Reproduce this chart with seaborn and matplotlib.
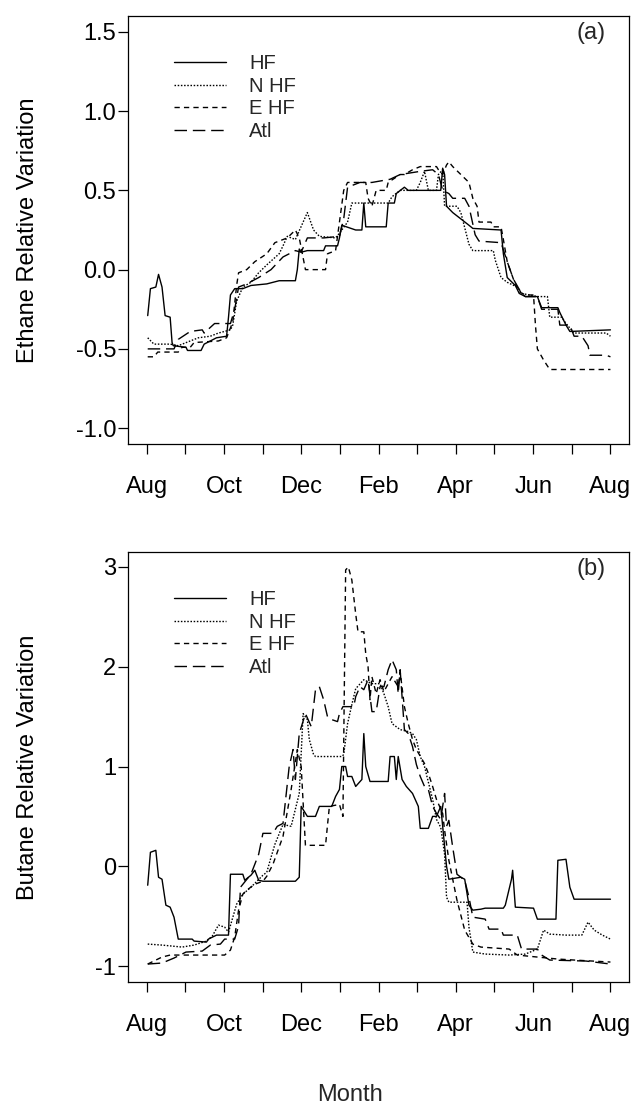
import numpy as np
import pandas as pd
import matplotlib
matplotlib.use("Agg")
import matplotlib.pyplot as plt
import seaborn as sns

# months since 1 Aug
SERIES = ["HF", "N HF", "E HF", "Atl"]
MONTH_LABELS = ["Aug", "", "Oct", "", "Dec", "", "Feb", "", "Apr", "", "Jun", "", "Aug"]

# ---- (a) ethane ----
eth_hf_m = [0.03, 0.10, 0.24, 0.31, 0.40, 0.48, 0.61, 0.66, 0.69, 1.02, 1.06, 1.41, 1.49, 1.65, 1.81, 2.07, 2.12, 2.17, 2.28, 2.49, 2.70, 3.11, 3.43, 3.85, 3.90, 3.95, 4.00, 4.16, 4.58, 4.63, 4.94, 4.99, 5.05, 5.41, 5.57, 5.62, 5.67, 6.20, 6.25, 6.41, 6.46, 6.67, 6.77, 7.61, 7.66, 7.71, 7.76, 7.92, 8.13, 8.34, 8.44, 9.17, 9.23, 9.33, 9.54, 9.64, 9.80, 10.11, 10.22, 10.64, 10.69, 10.85, 10.95, 12.0]
eth_hf_v = [-0.29, -0.12, -0.11, -0.03, -0.11, -0.29, -0.30, -0.46, -0.48, -0.49, -0.51, -0.51, -0.47, -0.45, -0.43, -0.42, -0.30, -0.16, -0.12, -0.12, -0.10, -0.09, -0.07, -0.07, 0.0, 0.13, 0.11, 0.12, 0.12, 0.15, 0.15, 0.20, 0.28, 0.25, 0.25, 0.42, 0.27, 0.27, 0.42, 0.42, 0.48, 0.52, 0.50, 0.50, 0.64, 0.60, 0.40, 0.36, 0.32, 0.28, 0.26, 0.25, 0.10, -0.05, -0.10, -0.15, -0.17, -0.17, -0.24, -0.24, -0.27, -0.35, -0.39, -0.38]

eth_nhf_m = [0.03, 0.19, 0.61, 0.82, 1.13, 1.34, 1.65, 1.86, 2.17, 2.23, 2.33, 2.49, 2.70, 2.90, 3.11, 3.43, 3.53, 3.64, 3.85, 4.05, 4.16, 4.32, 4.47, 4.89, 4.99, 5.20, 5.31, 6.25, 6.35, 6.56, 6.98, 7.08, 7.19, 7.29, 7.50, 7.55, 7.66, 7.71, 8.03, 8.13, 8.34, 8.44, 8.97, 9.02, 9.17, 9.33, 9.59, 9.70, 10.11, 10.37, 10.43, 10.74, 10.85, 11.06, 11.89, 12.0]
eth_nhf_v = [-0.43, -0.47, -0.47, -0.48, -0.45, -0.43, -0.42, -0.40, -0.38, -0.35, -0.20, -0.11, -0.08, -0.02, 0.03, 0.10, 0.15, 0.21, 0.19, 0.30, 0.36, 0.25, 0.21, 0.20, 0.23, 0.30, 0.42, 0.42, 0.46, 0.50, 0.50, 0.55, 0.62, 0.50, 0.50, 0.60, 0.63, 0.40, 0.40, 0.36, 0.16, 0.12, 0.12, 0.06, -0.05, -0.08, -0.11, -0.15, -0.17, -0.17, -0.30, -0.30, -0.34, -0.40, -0.40, -0.42]

eth_ehf_m = [0.03, 0.19, 0.29, 0.82, 0.92, 1.13, 1.23, 1.86, 2.07, 2.23, 2.33, 2.38, 2.59, 2.80, 3.11, 3.32, 3.64, 3.85, 3.95, 4.11, 4.63, 4.68, 4.89, 4.99, 5.10, 5.20, 5.41, 5.67, 5.73, 5.83, 5.94, 6.20, 6.25, 6.56, 6.67, 6.88, 7.08, 7.50, 7.55, 7.66, 7.76, 7.82, 7.92, 8.13, 8.34, 8.44, 8.55, 8.60, 8.91, 8.97, 9.17, 9.23, 9.33, 9.49, 9.64, 9.80, 10.01, 10.06, 10.11, 10.27, 10.43, 12.0]
eth_ehf_v = [-0.55, -0.55, -0.52, -0.52, -0.49, -0.49, -0.46, -0.45, -0.43, -0.33, -0.10, -0.02, 0.0, 0.05, 0.10, 0.17, 0.20, 0.25, 0.20, 0.0, 0.0, 0.10, 0.12, 0.30, 0.50, 0.55, 0.55, 0.55, 0.45, 0.40, 0.50, 0.50, 0.55, 0.60, 0.60, 0.63, 0.65, 0.65, 0.63, 0.60, 0.66, 0.68, 0.65, 0.60, 0.55, 0.45, 0.40, 0.30, 0.30, 0.27, 0.27, 0.19, 0.05, -0.06, -0.14, -0.16, -0.16, -0.35, -0.50, -0.57, -0.63, -0.63]

eth_atl_m = [0.03, 0.71, 0.82, 1.13, 1.44, 1.49, 1.76, 2.17, 2.28, 2.38, 2.59, 2.90, 3.22, 3.53, 3.85, 4.00, 4.16, 4.58, 4.99, 5.10, 5.20, 5.52, 5.83, 6.30, 6.56, 7.08, 7.40, 7.55, 7.66, 7.82, 7.92, 8.23, 8.34, 8.50, 8.60, 9.17, 9.33, 9.49, 9.70, 9.80, 10.11, 10.22, 10.64, 10.69, 10.95, 11.06, 11.26, 11.42, 11.47, 11.89, 12.0]
eth_atl_v = [-0.50, -0.50, -0.44, -0.39, -0.38, -0.40, -0.34, -0.34, -0.25, -0.11, -0.09, -0.05, 0.0, 0.08, 0.12, 0.11, 0.20, 0.20, 0.21, 0.32, 0.52, 0.55, 0.55, 0.57, 0.60, 0.62, 0.63, 0.60, 0.50, 0.48, 0.45, 0.45, 0.40, 0.22, 0.18, 0.17, 0.05, -0.06, -0.15, -0.17, -0.17, -0.25, -0.25, -0.35, -0.35, -0.42, -0.42, -0.48, -0.54, -0.54, -0.55]

# ---- (b) butane ----
but_hf_m = [0.03, 0.10, 0.24, 0.31, 0.40, 0.50, 0.61, 0.71, 0.82, 1.18, 1.23, 1.55, 1.60, 1.81, 2.12, 2.17, 2.49, 2.54, 2.70, 2.80, 2.90, 3.01, 3.85, 3.95, 4.00, 4.16, 4.37, 4.47, 4.79, 4.89, 4.99, 5.05, 5.15, 5.20, 5.31, 5.41, 5.57, 5.62, 5.67, 5.78, 6.25, 6.30, 6.41, 6.46, 6.51, 6.61, 6.72, 6.88, 7.03, 7.08, 7.29, 7.40, 7.50, 7.61, 7.66, 7.76, 7.82, 8.13, 8.23, 8.34, 8.44, 8.65, 8.76, 9.23, 9.28, 9.44, 9.47, 9.54, 10.01, 10.11, 10.59, 10.64, 10.85, 10.95, 11.06, 12.0]
but_hf_v = [-0.19, 0.14, 0.16, -0.11, -0.13, -0.39, -0.41, -0.51, -0.73, -0.73, -0.75, -0.76, -0.73, -0.69, -0.69, -0.08, -0.08, -0.14, -0.09, -0.04, -0.14, -0.15, -0.15, -0.11, 0.60, 0.50, 0.50, 0.60, 0.60, 0.70, 0.77, 1.00, 1.00, 0.90, 0.90, 0.80, 0.87, 1.33, 1.00, 0.85, 0.85, 1.10, 1.10, 0.87, 1.10, 0.87, 0.80, 0.73, 0.60, 0.38, 0.38, 0.50, 0.50, 0.60, 0.40, 0.0, -0.13, -0.11, -0.13, -0.39, -0.44, -0.43, -0.42, -0.42, -0.39, -0.13, -0.04, -0.41, -0.42, -0.53, -0.53, 0.06, 0.07, -0.21, -0.33, -0.33]

but_nhf_m = [0.03, 0.40, 0.92, 1.23, 1.55, 1.70, 1.86, 2.02, 2.12, 2.33, 2.49, 2.70, 3.01, 3.11, 3.22, 3.32, 3.53, 3.74, 3.95, 4.05, 4.16, 4.21, 4.32, 4.37, 5.05, 5.10, 5.20, 5.31, 5.41, 5.62, 5.83, 6.04, 6.14, 6.25, 6.35, 6.56, 6.77, 6.88, 6.98, 7.08, 7.19, 7.40, 7.50, 7.61, 7.71, 7.76, 7.82, 8.29, 8.34, 8.44, 8.76, 9.38, 9.80, 10.11, 10.27, 10.43, 10.85, 11.26, 11.42, 11.58, 11.79, 12.0]
but_nhf_v = [-0.78, -0.79, -0.81, -0.79, -0.75, -0.70, -0.59, -0.61, -0.66, -0.38, -0.28, -0.21, -0.09, -0.06, 0.09, 0.22, 0.42, 0.40, 0.73, 1.53, 1.47, 1.27, 1.12, 1.10, 1.10, 1.12, 1.43, 1.62, 1.78, 1.87, 1.83, 1.83, 1.73, 1.60, 1.43, 1.37, 1.35, 1.33, 1.27, 1.10, 1.00, 0.67, 0.47, 0.39, 0.12, -0.31, -0.36, -0.36, -0.61, -0.86, -0.88, -0.89, -0.88, -0.83, -0.64, -0.68, -0.69, -0.69, -0.56, -0.64, -0.69, -0.73]

but_ehf_m = [0.03, 0.40, 0.61, 2.02, 2.17, 2.28, 2.38, 2.49, 2.59, 2.80, 3.01, 3.11, 3.27, 3.53, 3.74, 3.90, 4.00, 4.11, 4.63, 4.68, 4.73, 4.99, 5.08, 5.12, 5.15, 5.22, 5.31, 5.41, 5.47, 5.62, 5.67, 5.73, 5.78, 5.83, 5.94, 6.04, 6.14, 6.25, 6.35, 6.51, 6.56, 6.67, 6.77, 6.88, 6.98, 7.19, 7.29, 7.40, 7.50, 7.66, 7.71, 7.82, 8.03, 8.23, 8.44, 8.65, 9.38, 9.59, 10.11, 10.64, 11.06, 12.0]
but_ehf_v = [-0.98, -0.91, -0.89, -0.89, -0.84, -0.71, -0.44, -0.28, -0.24, -0.18, -0.15, -0.10, 0.02, 0.30, 0.77, 1.17, 1.00, 0.21, 0.21, 0.41, 0.60, 0.62, 0.50, 1.93, 2.97, 3.00, 2.87, 2.53, 2.35, 2.35, 2.13, 2.00, 1.67, 1.90, 1.73, 1.87, 1.75, 1.83, 1.90, 1.80, 1.95, 1.60, 1.43, 1.27, 1.17, 1.03, 0.93, 0.80, 0.67, 0.53, 0.36, 0.06, -0.34, -0.64, -0.78, -0.81, -0.83, -0.89, -0.91, -0.93, -0.94, -0.96]

but_atl_m = [0.03, 0.40, 0.71, 1.02, 1.44, 1.65, 1.91, 2.02, 2.28, 2.38, 2.43, 2.70, 2.90, 3.01, 3.27, 3.38, 3.53, 3.69, 3.79, 3.85, 3.95, 4.11, 4.26, 4.37, 4.47, 4.58, 4.68, 4.79, 4.94, 4.99, 5.08, 5.36, 5.41, 5.52, 5.62, 5.73, 5.83, 5.94, 6.04, 6.14, 6.25, 6.35, 6.46, 6.51, 6.56, 6.67, 6.77, 6.88, 6.98, 7.08, 7.19, 7.29, 7.40, 7.50, 7.61, 7.71, 7.76, 7.82, 7.92, 8.03, 8.23, 8.34, 8.44, 8.76, 8.86, 9.17, 9.23, 9.59, 9.70, 10.11, 10.22, 10.43, 11.37, 12.0]
but_atl_v = [-0.98, -0.97, -0.92, -0.86, -0.85, -0.79, -0.78, -0.73, -0.73, -0.60, -0.21, -0.08, 0.12, 0.33, 0.33, 0.40, 0.43, 1.00, 1.17, 0.87, 1.33, 1.53, 1.40, 1.77, 1.80, 1.67, 1.50, 1.47, 1.45, 1.53, 1.60, 1.60, 1.70, 1.80, 1.77, 1.87, 1.55, 1.55, 1.80, 1.80, 1.97, 2.07, 1.97, 1.73, 1.97, 1.37, 1.33, 1.20, 1.02, 0.90, 0.80, 0.77, 0.60, 0.53, 0.47, 0.73, 0.40, 0.46, 0.19, -0.08, -0.14, -0.31, -0.51, -0.53, -0.63, -0.63, -0.69, -0.69, -0.83, -0.83, -0.89, -0.94, -0.95, -0.98]


def to_long(parts):
    rows = []
    for name, m, v in parts:
        rows.append(pd.DataFrame({"month": m, "value": v, "site": name}))
    return pd.concat(rows, ignore_index=True)


eth = to_long([("HF", eth_hf_m, eth_hf_v), ("N HF", eth_nhf_m, eth_nhf_v),
               ("E HF", eth_ehf_m, eth_ehf_v), ("Atl", eth_atl_m, eth_atl_v)])
but = to_long([("HF", but_hf_m, but_hf_v), ("N HF", but_nhf_m, but_nhf_v),
               ("E HF", but_ehf_m, but_ehf_v), ("Atl", but_atl_m, but_atl_v)])

sns.set_theme(style="ticks")
plt.rcParams["font.family"] = ["Liberation Sans", "DejaVu Sans"]
plt.rcParams["axes.unicode_minus"] = False

DASHES = {"HF": "", "N HF": (1.1, 1.2), "E HF": (3.8, 3.0), "Atl": (9.0, 4.2)}
PALETTE = {s: "black" for s in SERIES}
FS = 17

fig = plt.figure(figsize=(6.35, 11.11), dpi=100)
ax1 = fig.add_axes([128 / 635, 1 - 444 / 1111, 501 / 635, 428 / 1111])
ax2 = fig.add_axes([128 / 635, 1 - 982 / 1111, 501 / 635, 430 / 1111])


def draw(ax, df, ylim, yticks, ytl, ylabel, tag):
    sns.lineplot(data=df, x="month", y="value", hue="site", style="site",
                 hue_order=SERIES, style_order=SERIES, palette=PALETTE,
                 dashes=DASHES, estimator=None, sort=False, lw=1.0, ax=ax)
    ax.set_xlim(-0.48, 12.48)
    ax.set_ylim(*ylim)
    ax.set_xticks(range(13))
    ax.set_xticklabels(MONTH_LABELS)
    ax.set_yticks(yticks)
    ax.set_yticklabels(ytl)
    ax.tick_params(axis="both", direction="out", length=7, width=0.9,
                   colors="black", labelsize=FS)
    ax.tick_params(axis="x", pad=16)
    ax.tick_params(axis="y", pad=1.5)
    for sp in ax.spines.values():
        sp.set_visible(True)
        sp.set_linewidth(0.9)
        sp.set_color("black")
    ax.set_xlabel("")
    ax.set_ylabel(ylabel, fontsize=FS, color="black")
    ax.yaxis.set_label_coords(-0.178, 0.5)
    ax.text(0.925, 0.96, tag, transform=ax.transAxes, ha="center", va="center",
            fontsize=FS)
    handles, labels = ax.get_legend_handles_labels()
    ax.legend(handles, labels, loc="upper left", bbox_to_anchor=(0.075, 0.93),
              frameon=False, fontsize=14.5, handlelength=2.6, handletextpad=1.15,
              labelspacing=0.18, borderaxespad=0)


draw(ax1, eth, (-1.1, 1.6), [-1.0, -0.5, 0.0, 0.5, 1.0, 1.5],
     ["-1.0", "-0.5", "0.0", "0.5", "1.0", "1.5"], "Ethane Relative Variation", "(a)")
draw(ax2, but, (-1.16, 3.15), [-1, 0, 1, 2, 3],
     ["-1", "0", "1", "2", "3"], "Butane Relative Variation", "(b)")

fig.text(350 / 635, 1 - 1095 / 1111, "Month", ha="center", va="center", fontsize=FS)

fig.savefig("out.png", dpi=100, facecolor="white")
